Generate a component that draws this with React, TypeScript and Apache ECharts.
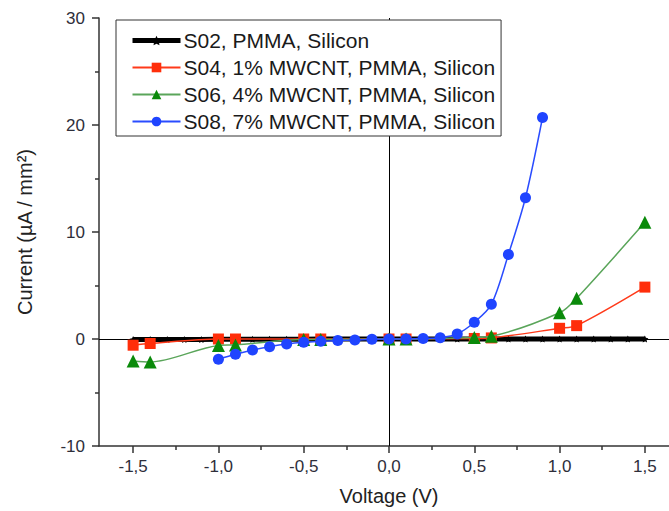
import React, { useEffect, useRef } from "react";
import * as echarts from "echarts";

const voltageS02 = [-1.5, -1.4, -1.3, -1.2, -1.1, -1.0, -0.9, -0.8, -0.7, -0.6, -0.5, -0.4, -0.3, -0.2, -0.1, 0.0, 0.1, 0.2, 0.3, 0.4, 0.5, 0.6, 0.7, 0.8, 0.9, 1.0, 1.1, 1.2, 1.3, 1.4, 1.5];
const currentS02 = [-0.05, -0.05, -0.05, -0.05, -0.05, -0.03, -0.03, -0.03, -0.02, -0.02, -0.02, -0.01, -0.01, 0, 0, 0, 0, 0, 0, 0, 0, 0, 0, 0, 0, 0, 0, 0, 0, 0, 0];

const voltageS04 = [-1.5, -1.4, -1.0, -0.9, -0.5, -0.4, 0.0, 0.1, 0.5, 0.6, 1.0, 1.1, 1.5];
const currentS04 = [-0.58, -0.42, 0, 0, 0, 0, 0, 0, 0.05, 0.1, 1.0, 1.25, 4.85];

const voltageS06 = [-1.5, -1.4, -1.0, -0.9, -0.5, -0.4, 0.0, 0.1, 0.5, 0.6, 1.0, 1.1, 1.5];
const currentS06 = [-2.05, -2.15, -0.6, -0.55, -0.05, -0.05, 0, 0, 0.15, 0.25, 2.45, 3.8, 10.9];

const voltageS08 = [-1.0, -0.9, -0.8, -0.7, -0.6, -0.5, -0.4, -0.3, -0.2, -0.1, 0.0, 0.1, 0.2, 0.3, 0.4, 0.5, 0.6, 0.7, 0.8, 0.9];
const currentS08 = [-1.9, -1.43, -1.03, -0.72, -0.47, -0.31, -0.22, -0.15, -0.1, -0.03, 0, 0, 0.05, 0.12, 0.47, 1.56, 3.24, 7.9, 13.2, 20.7];

const seriesNames = [
  "S02, PMMA, Silicon",
  "S04, 1% MWCNT, PMMA, Silicon",
  "S06, 4% MWCNT, PMMA, Silicon",
  "S08, 7% MWCNT, PMMA, Silicon",
];

const xMajorTicks = [-1.5, -1.0, -0.5, 0.0, 0.5, 1.0, 1.5];
const xMinorTicks = [-1.25, -0.75, -0.25, 0.25, 0.75, 1.25];

const zip = (xs: number[], ys: number[]) => xs.map((x, i) => [x, ys[i]]);

const STAR =
  "path://M0,-10 L2.9,-4 9.5,-3.1 4.8,1.5 5.9,8.1 0,5 -5.9,8.1 -4.8,1.5 -9.5,-3.1 -2.9,-4 Z";

const FONT = "'Liberation Sans', Arial, sans-serif";

export default function App() {
  const ref = useRef<HTMLDivElement>(null);
  useEffect(() => {
    if (!ref.current) return;
    const chart = echarts.init(ref.current, undefined, { renderer: "svg" });
    const fmtX = (v: number) => v.toFixed(1).replace(".", ",");
    chart.setOption({
      animation: false,
      backgroundColor: "#ffffff",
      textStyle: { fontFamily: FONT },
      grid: { left: 99, top: 18, height: 428, width: 580, containLabel: false, outerBoundsMode: "none" },
      legend: {
        orient: "vertical",
        left: 116,
        top: 20,
        padding: [10, 6, 4, 14],
        itemWidth: 48,
        itemHeight: 12,
        itemGap: 6,
        backgroundColor: "#ffffff",
        borderColor: "#333333",
        borderWidth: 1,
        borderRadius: 0,
        z: 10,
        textStyle: { fontFamily: FONT, fontSize: 21, color: "#1a1a1a", lineHeight: 20, padding: [0, 0, 0, -2] },
        data: [
          { name: seriesNames[0], lineStyle: { width: 5, color: "#000000" } },
          seriesNames[1],
          seriesNames[2],
          seriesNames[3],
        ],
      },
      xAxis: [
        {
          type: "value",
          min: -1.7,
          max: 1.7,
          position: "bottom",
          name: "Voltage (V)",
          nameLocation: "middle",
          nameGap: 40,
          nameTextStyle: { fontFamily: FONT, fontSize: 20, color: "#222222" },
          axisLine: { onZero: false, lineStyle: { color: "#333333", width: 1.5 } },
          axisTick: { show: true, inside: false, length: 7, customValues: xMajorTicks, lineStyle: { color: "#333333", width: 1.5 } },
          axisLabel: {
            show: true,
            customValues: xMajorTicks,
            formatter: fmtX,
            margin: 12,
            fontSize: 17,
            fontFamily: FONT,
            color: "#2e2e3a",
          },
          splitLine: { show: false },
        },
        {
          type: "value",
          min: -1.7,
          max: 1.7,
          position: "bottom",
          axisLine: { show: false, onZero: false },
          axisTick: { show: true, inside: false, length: 4, customValues: xMinorTicks, lineStyle: { color: "#333333", width: 1.5 } },
          axisLabel: { show: false },
          splitLine: { show: false },
        },
      ],
      yAxis: {
        type: "value",
        min: -10,
        max: 30,
        interval: 10,
        name: "Current (µA / mm²)",
        nameLocation: "middle",
        nameGap: 64,
        nameTextStyle: { fontFamily: FONT, fontSize: 20, color: "#222222" },
        axisLine: { show: true, onZero: false, lineStyle: { color: "#333333", width: 1.5 } },
        axisTick: { show: true, inside: false, length: 7, lineStyle: { color: "#333333", width: 1.5 } },
        minorTick: { show: true, splitNumber: 2, length: 4, lineStyle: { color: "#333333", width: 1.5 } },
        axisLabel: { margin: 14, fontSize: 17, fontFamily: FONT, color: "#2e2e3a" },
        splitLine: { show: false },
        minorSplitLine: { show: false },
      },
      series: [
        {
          name: seriesNames[0],
          type: "line",
          xAxisIndex: 0,
          data: zip(voltageS02, currentS02),
          symbol: STAR,
          symbolSize: 7,
          itemStyle: { color: "#000000" },
          lineStyle: { color: "#000000", width: 5 },
          z: 2,
          markLine: {
            silent: true,
            symbol: "none",
            label: { show: false },
            lineStyle: { color: "#000000", width: 1, type: "solid" },
            data: [{ xAxis: 0 }, { yAxis: 0 }],
            z: 1,
          },
        },
        {
          name: seriesNames[1],
          type: "line",
          xAxisIndex: 0,
          data: zip(voltageS04, currentS04),
          smooth: 0.3,
          symbol: "rect",
          symbolSize: 11,
          itemStyle: { color: "#ff2e0a" },
          lineStyle: { color: "#ff3a1a", width: 1.5 },
          z: 3,
        },
        {
          name: seriesNames[2],
          type: "line",
          xAxisIndex: 0,
          data: zip(voltageS06, currentS06),
          smooth: 0.3,
          symbol: "triangle",
          symbolSize: 13,
          itemStyle: { color: "#0a8a0a" },
          lineStyle: { color: "#5aa55a", width: 1.5 },
          z: 4,
        },
        {
          name: seriesNames[3],
          type: "line",
          xAxisIndex: 0,
          data: zip(voltageS08, currentS08),
          smooth: 0.3,
          symbol: "circle",
          symbolSize: 11,
          itemStyle: { color: "#1f44ff" },
          lineStyle: { color: "#2a4cff", width: 1.5 },
          z: 5,
        },
      ],
    });
    return () => chart.dispose();
  }, []);
  return (
    <div
      ref={ref}
      style={{ position: "fixed", left: 0, top: 0, width: 669, height: 511 }}
    />
  );
}
